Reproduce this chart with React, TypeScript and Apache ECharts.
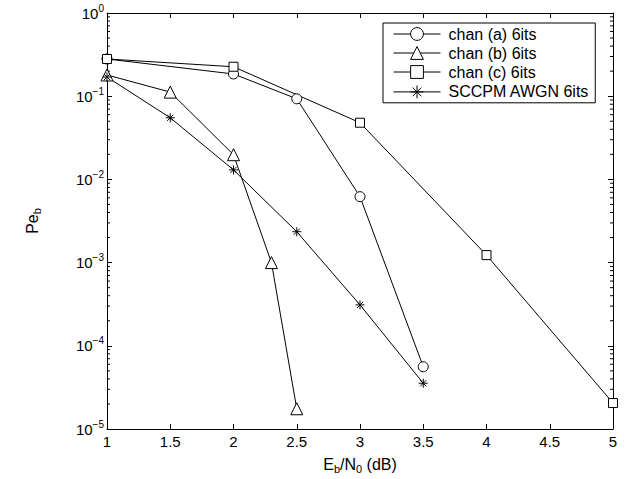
import React, { useEffect, useRef } from "react";
import * as echarts from "echarts";

const seriesNames = ["chan (a) 6its", "chan (b) 6its", "chan (c) 6its", "SCCPM AWGN 6its"];
const chanA: [number, number][] = [[1, 0.28], [2, 0.185], [2.5, 0.093], [3, 0.0062], [3.5, 5.6e-5]];
const chanB: [number, number][] = [[1, 0.18], [1.5, 0.112], [2, 0.0198], [2.3, 0.001], [2.5, 1.75e-5]];
const chanC: [number, number][] = [[1, 0.28], [2, 0.226], [3, 0.048], [4, 0.00123], [5, 2.05e-5]];
const sccpm: [number, number][] = [[1, 0.17], [1.5, 0.055], [2, 0.013], [2.5, 0.00235], [3, 0.00031], [3.5, 3.55e-5]];
const decades = [-5, -4, -3, -2, -1];
const minorMultipliers = [2, 3, 4, 5, 6, 7, 8, 9];

const FONT = "'Liberation Sans', Arial, Helvetica, sans-serif";
const ASTERISK = "path://M5,0L5,10M0,5L10,5M1.6,1.6L8.4,8.4M1.6,8.4L8.4,1.6";

export default function App() {
  const ref = useRef<HTMLDivElement>(null);
  useEffect(() => {
    if (!ref.current) return;
    const chart = echarts.init(ref.current, null, { renderer: "svg" });
    const minorData: [number, number][] = [];
    decades.forEach((d) => minorMultipliers.forEach((m) => minorData.push([1, m * Math.pow(10, d)])));

    const common = {
      type: "line",
      symbolSize: 10,
      lineStyle: { color: "#000", width: 1 },
      itemStyle: { color: "#fff", borderColor: "#000", borderWidth: 1 },
      z: 5,
    };
    const option: any = {
      animation: false,
      backgroundColor: "#fff",
      grid: { left: 107, right: 13, top: 13, bottom: 49 },
      legend: {
        data: seriesNames,
        orient: "vertical",
        left: 383,
        top: 23,
        padding: [3, 6, 2, 10],
        itemGap: 3,
        itemWidth: 47,
        itemHeight: 16,
        borderColor: "#000",
        borderWidth: 1,
        backgroundColor: "#fff",
        lineStyle: { width: 1, color: "#000" },
        itemStyle: { borderWidth: 1, borderColor: "#000" },
        textStyle: { fontSize: 16, lineHeight: 16, color: "#000", fontFamily: FONT, padding: [0, 0, 0, 3] },
      },
      xAxis: [
        {
          type: "value",
          min: 1,
          max: 5,
          interval: 0.5,
          position: "bottom",
          axisLine: { show: true, lineStyle: { color: "#000", width: 1 } },
          axisTick: { show: true, inside: true, length: 5, lineStyle: { color: "#000" } },
          axisLabel: { color: "#000", fontSize: 15, fontFamily: FONT, margin: 5 },
          splitLine: { show: false },
          name: "{n|E}{sub|b}{n|/N}{sub|0}{n| (dB)}",
          nameLocation: "middle",
          nameGap: 25,
          nameTextStyle: {
            color: "#000",
            fontFamily: FONT,
            rich: {
              n: { fontSize: 16, lineHeight: 20, fontFamily: FONT, color: "#000" },
              sub: { fontSize: 11, lineHeight: 10, verticalAlign: "bottom", fontFamily: FONT, color: "#000" },
            },
          },
        },
        {
          type: "value",
          min: 1,
          max: 5,
          interval: 0.5,
          position: "top",
          axisLine: { show: true, lineStyle: { color: "#000", width: 1 } },
          axisTick: { show: true, inside: true, length: 5, lineStyle: { color: "#000" } },
          axisLabel: { show: false },
          splitLine: { show: false },
        },
      ],
      yAxis: [
        {
          type: "log",
          logBase: 10,
          min: 1e-5,
          max: 1,
          interval: 1,
          position: "left",
          axisLine: { show: true, lineStyle: { color: "#000", width: 1 } },
          axisTick: { show: true, inside: true, length: 5, lineStyle: { color: "#000" } },
          axisLabel: {
            margin: 3,
            formatter: (v: number) => `{b|10}{s|${Math.round(Math.log10(v)).toString().replace("-", "\u2212")}}`,
            rich: {
              b: { fontSize: 15, lineHeight: 20, fontFamily: FONT, color: "#000" },
              s: { fontSize: 10, lineHeight: 10, verticalAlign: "top", fontFamily: FONT, color: "#000" },
            },
          },
          splitLine: { show: false },
          name: "{n|Pe}{sub|b}",
          nameLocation: "middle",
          nameRotate: 90,
          nameGap: 65,
          nameTextStyle: {
            color: "#000",
            fontFamily: FONT,
            rich: {
              n: { fontSize: 16, lineHeight: 20, fontFamily: FONT, color: "#000" },
              sub: { fontSize: 11, lineHeight: 10, verticalAlign: "bottom", fontFamily: FONT, color: "#000" },
            },
          },
        },
        {
          type: "log",
          logBase: 10,
          min: 1e-5,
          max: 1,
          interval: 1,
          position: "right",
          axisLine: { show: true, lineStyle: { color: "#000", width: 1 } },
          axisTick: { show: true, inside: true, length: 5, lineStyle: { color: "#000" } },
          axisLabel: { show: false },
          splitLine: { show: false },
        },
      ],
      series: [
        { ...common, name: seriesNames[0], data: chanA, symbol: "circle", symbolSize: 10 },
        { ...common, name: seriesNames[1], data: chanB, symbol: "triangle", symbolSize: 12 },
        { ...common, name: seriesNames[2], data: chanC, symbol: "rect", symbolSize: 9 },
        {
          ...common,
          name: seriesNames[3],
          data: sccpm,
          symbol: ASTERISK,
          symbolSize: 9,
          itemStyle: { color: "none", borderColor: "#000", borderWidth: 1 },
        },
        {
          type: "custom",
          name: "minorTicks",
          silent: true,
          clip: false,
          data: minorData,
          z: 1,
          renderItem: (_p: any, api: any) => {
            const v = api.value(1);
            const l = api.coord([1, v]);
            const r = api.coord([5, v]);
            return {
              type: "group",
              children: [
                { type: "line", shape: { x1: l[0], y1: l[1], x2: l[0] + 3, y2: l[1] }, style: { stroke: "#000", lineWidth: 1 } },
                { type: "line", shape: { x1: r[0] - 3, y1: r[1], x2: r[0], y2: r[1] }, style: { stroke: "#000", lineWidth: 1 } },
              ],
            };
          },
        },
      ],
    };
    chart.setOption(option);
    return () => chart.dispose();
  }, []);
  return <div ref={ref} style={{ width: 626, height: 479, position: "absolute", left: 0, top: 0 }} />;
}
